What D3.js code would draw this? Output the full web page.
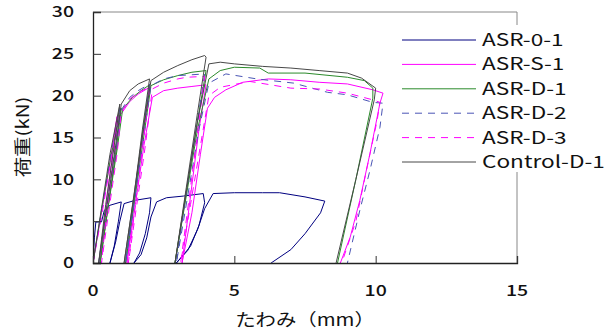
<!DOCTYPE html>
<html>
<head>
<meta charset="utf-8">
<script src="https://cdn.jsdelivr.net/npm/d3@7"></script>
<style>
  body { margin: 0; background: #fff; }
  svg { display: block; font-family: "Noto Sans CJK JP", sans-serif; }
</style>
</head>
<body>
<svg width="614" height="334"></svg>
<script>
// deflection (mm), load (kN)
const asr01 = [[0,0],[0.05,3],[0.1,4.9],[0.3,4.9],[0.4,6.3],[0.6,6.9],[1.0,7.3],[0.9,5],[0.75,2],[0.6,0],[0.8,2.5],[0.95,5],[1.1,7.1],[1.5,7.5],[2.05,7.8],[2.0,6],[1.85,3.5],[1.65,1.2],[1.45,0],[1.7,1],[1.9,3],[2.05,5.5],[2.25,7.3],[2.6,7.8],[3.2,8.0],[3.9,8.3],[3.95,7.2],[3.75,4.5],[3.45,2],[2.95,0],[3.35,1.5],[3.7,4],[3.95,6.5],[4.25,8.3],[5.0,8.4],[6.0,8.4],[6.6,8.4],[7.5,7.9],[8.2,7.4],[8.05,6],[7.5,3.5],[7.0,1.6],[6.3,0]]
const asrS1 = [[0,0],[0.3,6],[0.6,12],[0.85,17.5],[0.65,12],[0.4,5],[0.25,0],[0.5,6],[0.8,13],[0.95,17.6],[1.3,19.3],[1.6,20.2],[2.0,21.0],[1.75,15],[1.45,7],[1.2,0],[1.5,7],[1.8,14],[2.1,19.8],[2.5,20.6],[3.0,20.9],[3.5,21.1],[4.0,21.3],[3.75,16],[3.45,8],[3.15,0],[3.5,6],[3.8,13],[4.05,18.5],[4.3,19.8],[4.7,20.7],[5.3,21.6],[6.2,22.0],[7.0,21.9],[8.0,21.6],[9.0,21.4],[9.9,20.7],[10.26,20.3],[10.15,19.1],[9.8,13.1],[9.44,7.5],[9.1,3.1],[8.75,0]]
const asrD1 = [[0,0],[0.3,6.3],[0.65,13],[1.0,18.5],[0.8,13],[0.5,6],[0.25,0],[0.55,7],[0.85,13.5],[1.05,18.4],[1.4,19.8],[1.7,20.6],[2.0,21.3],[1.75,15.5],[1.45,7.5],[1.15,0],[1.45,7],[1.75,14],[2.05,21.2],[2.5,21.9],[3.0,22.4],[3.5,22.8],[4.0,23.0],[3.7,17],[3.3,8.5],[2.9,0],[3.3,8],[3.7,16],[4.1,22.0],[4.5,23.0],[5.0,23.4],[5.9,23.3],[6.2,22.7],[7.5,22.7],[9.0,22.2],[9.6,21.8],[9.9,20.9],[9.9,19.7],[9.3,10],[8.65,0]]
const asrD2 = [[0,0],[0.3,6.2],[0.6,12.5],[0.95,18.5],[0.75,13],[0.45,6],[0.2,0],[0.5,7],[0.8,13.5],[1.0,18.3],[1.3,19.8],[1.6,20.6],[2.0,21.4],[1.75,15.5],[1.45,7.5],[1.15,0],[1.45,7],[1.75,14],[2.05,21.2],[2.5,22.0],[3.0,22.4],[3.5,22.5],[3.95,22.6],[3.7,17],[3.3,8.5],[2.95,0],[3.35,8],[3.75,16],[4.1,21.5],[4.7,22.6],[5.8,22.0],[7.1,21.5],[8.3,20.4],[9.0,20.1],[9.9,19.2],[10.26,19.1],[10.15,16.2],[9.8,11.1],[9.44,6.3],[9.0,0]]
const asrD3 = [[0,0],[0.3,5.5],[0.6,11.5],[0.9,17.8],[0.7,12],[0.45,5],[0.3,0],[0.55,6],[0.85,13],[1.0,18.0],[1.3,19.6],[1.6,20.4],[2.0,21.0],[1.8,15],[1.5,7],[1.25,0],[1.55,7],[1.85,14],[2.1,20.8],[2.5,21.5],[3.0,22.0],[3.3,22.2],[3.95,22.3],[3.75,17],[3.45,9],[3.1,0],[3.45,7],[3.8,14],[4.1,20.0],[4.5,21.0],[5.55,21.7],[7.0,20.9],[8.0,20.8],[9.0,20.3],[9.9,19.5],[10.15,19.2],[10.05,17],[9.7,11.5],[9.3,5],[8.8,0]]
const controlD1 = [[0,0],[0.3,6.5],[0.6,13],[0.95,19],[0.75,14],[0.45,7],[0.2,0],[0.5,7],[0.8,14],[1.0,19],[1.3,20.6],[1.6,21.4],[2.0,22.0],[1.75,16],[1.45,8],[1.1,0],[1.4,7],[1.7,14],[2.05,21.8],[2.5,22.8],[3.0,23.6],[3.5,24.3],[3.95,24.8],[4.0,24.6],[3.7,18],[3.3,9],[2.9,0],[3.3,8.5],[3.7,17],[4.1,23.8],[4.5,24.0],[5.0,23.8],[6.0,23.5],[7.0,23.3],[8.0,23.0],[9.0,22.7],[9.5,22.1],[10.0,20.9],[9.95,19.5],[9.3,10],[8.6,0]]

const names = ['ASR-0-1', 'ASR-S-1', 'ASR-D-1', 'ASR-D-2', 'ASR-D-3', 'Control-D-1']
const xTicks = [0, 5, 10, 15]
const yTicks = [0, 5, 10, 15, 20, 25, 30]

const series = [
  {name: names[0], data: asr01, color: '#000080', dash: null},
  {name: names[1], data: asrS1, color: '#ff00ff', dash: null},
  {name: names[2], data: asrD1, color: '#2b8a2b', dash: null},
  {name: names[3], data: asrD2, color: '#4a55b5', dash: '7,6'},
  {name: names[4], data: asrD3, color: '#ff00ff', dash: '7,6'},
  {name: names[5], data: controlD1, color: '#484848', dash: null}
]

const svg = d3.select('svg')
const pLeft = 93, pRight = 517, pTop = 12, pBottom = 263

const x = d3.scaleLinear().domain([0, 15]).range([pLeft, pRight])
const y = d3.scaleLinear().domain([0, 30]).range([pBottom, pTop])

svg.append('defs').append('clipPath').attr('id', 'clip')
  .append('rect').attr('x', pLeft).attr('y', pTop).attr('width', pRight - pLeft).attr('height', pBottom - pTop)

// frame
svg.append('line').attr('x1', pLeft).attr('x2', pRight).attr('y1', pTop).attr('y2', pTop).attr('stroke', '#888')
svg.append('line').attr('x1', pRight).attr('x2', pRight).attr('y1', pTop).attr('y2', pBottom).attr('stroke', '#888')

const line = d3.line().x(d => x(d[0])).y(d => y(d[1]))

const vis = svg.append('g').attr('clip-path', 'url(#clip)')
vis.selectAll('path')
  .data(series)
  .enter()
  .append('path')
  .attr('d', d => line(d.data))
  .attr('fill', 'none')
  .attr('stroke', d => d.color)
  .attr('stroke-width', 1)
  .attr('stroke-dasharray', d => d.dash)

// axes (ticks inside)
svg.append('g').attr('transform', `translate(${pLeft},0)`)
  .call(d3.axisRight(y).tickValues(yTicks).tickSize(8).tickFormat(''))
svg.append('g').attr('transform', `translate(0,${pBottom})`)
  .call(d3.axisTop(x).tickValues(xTicks).tickSize(7).tickFormat(''))
svg.selectAll('.domain').attr('stroke', '#222').attr('stroke-width', 1.3)
svg.selectAll('.tick line').attr('stroke', '#333')

// the original font is wide, so text is stretched sideways
svg.selectAll('text.ylab').data(yTicks).enter().append('text')
  .attr('class', 'ylab')
  .attr('transform', d => `translate(74,${y(d)}) scale(1.3,1)`)
  .attr('dy', '0.35em')
  .attr('text-anchor', 'end').attr('font-size', 15).attr('font-weight', 500).attr('fill', '#111')
  .text(d => d)

svg.selectAll('text.xlab').data(xTicks).enter().append('text')
  .attr('class', 'xlab')
  .attr('transform', d => `translate(${x(d)},296) scale(1.3,1)`)
  .attr('text-anchor', 'middle').attr('font-size', 15).attr('font-weight', 500).attr('fill', '#111')
  .text(d => d)

svg.append('text')
  .attr('transform', 'translate(29,137) rotate(-90) scale(1.2,1)')
  .attr('text-anchor', 'middle').attr('font-size', 17).attr('fill', '#111')
  .text('荷重(kN)')

svg.append('text')
  .attr('transform', 'translate(305,326) scale(1.2,1)')
  .attr('text-anchor', 'middle').attr('font-size', 17).attr('fill', '#111')
  .text('たわみ（mm）')

// legend
const legend = svg.append('g')
legend.append('rect').attr('x', 396).attr('y', 25).attr('width', 214).attr('height', 147).attr('fill', '#fff')
const row = legend.selectAll('g.row').data(series).enter().append('g')
  .attr('class', 'row')
  .attr('transform', (d, i) => `translate(0,${40 + i * 24.4})`)
row.append('line')
  .attr('x1', 402).attr('x2', 476)
  .attr('stroke', d => d.color)
  .attr('stroke-dasharray', d => d.dash)
row.append('text')
  .attr('transform', 'translate(482,0) scale(1.33,1)')
  .attr('dy', '0.35em').attr('font-size', 17).attr('fill', '#111')
  .text(d => d.name)
</script>
</body>
</html>
